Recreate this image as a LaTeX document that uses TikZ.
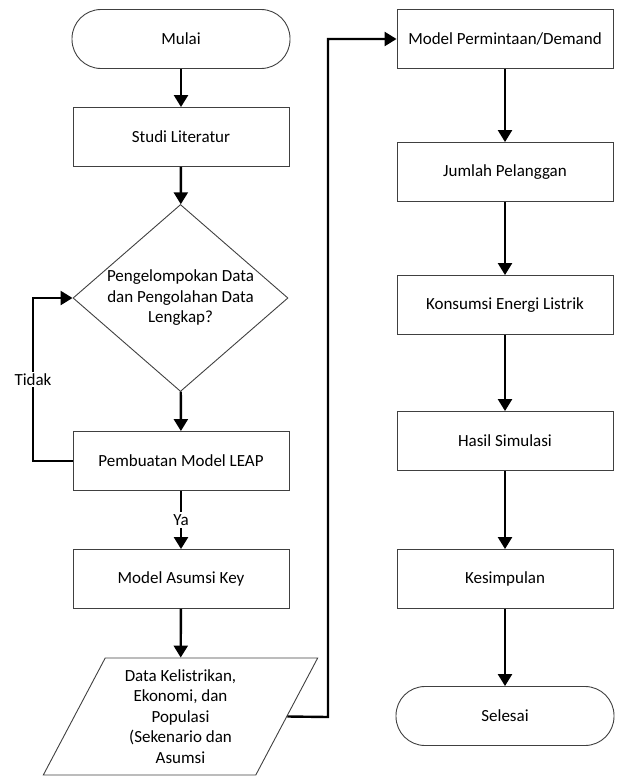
\documentclass[tikz,border=0pt]{standalone}
\usepackage{fontspec}
\setmainfont{Carlito}
\usetikzlibrary{arrows.meta, positioning, shapes.geometric}

\tikzset{
    terminal/.style={rectangle, rounded corners=29pt, draw=black!75, line width=0.9pt, minimum width=218pt, minimum height=59pt},
    proses/.style={rectangle, draw=black!75, line width=0.9pt, minimum width=216pt, minimum height=59pt},
    keputusan/.style={diamond, draw=black!75, line width=0.9pt, aspect=1.15, minimum width=215pt, minimum height=187pt, inner sep=0pt, align=center},
    masukan/.style={trapezium, trapezium left angle=64, trapezium right angle=116, trapezium stretches=true, draw=black!75, line width=0.9pt, minimum width=275pt, minimum height=117pt, inner sep=0pt, align=center},
    panah/.style={-{Triangle[length=12pt,width=14pt]}, line width=2.4pt},
    ket/.style={fill=white, inner sep=2pt}
}

\begin{document}
\begin{tikzpicture}[x=1pt, y=-1pt, font=\fontsize{17pt}{20.5pt}\selectfont]
    \useasboundingbox (0,0) rectangle (618,776);

    % Left column
    \node[terminal] (mulai) at (181,39) {Mulai};
    \node[proses] (studi) at (181,137) {Studi Literatur};
    \node[keputusan] (cek) at (180.5,298) {Pengelompokan Data\\dan Pengolahan Data\\Lengkap?};
    \node[proses] (leap) at (181,461) {Pembuatan Model LEAP};
    \node[proses] (asumsi) at (181,579) {Model Asumsi Key};
    \node[masukan] (data) at (180.5,716.5) {Data Kelistrikan,\\Ekonomi, dan\\Populasi\\(Sekenario dan\\Asumsi};

    % Right column
    \node[proses] (demand) at (505,39) {Model Permintaan/Demand};
    \node[proses] (pelanggan) at (505,172) {Jumlah Pelanggan};
    \node[proses] (konsumsi) at (505,305) {Konsumsi Energi Listrik};
    \node[proses] (hasil) at (505,441) {Hasil Simulasi};
    \node[proses] (simpulan) at (505,579) {Kesimpulan};
    \node[terminal] (selesai) at (505,716) {Selesai};

    \coordinate (kiri) at (33,461);
    \coordinate (belok) at (328,717);

    % Draw connections
    \draw[panah] (mulai) -- (studi);
    \draw[panah] (studi) -- (cek);
    \draw[panah] (cek) -- (leap);
    \draw[panah] (leap.west) -- (kiri) -- node[ket] {Tidak} (kiri |- cek.west) -- (cek.west);
    \draw[panah] (leap) -- node[ket] {Ya} (asumsi);
    \draw[panah] (asumsi) -- (data);
    \draw[panah] (data.east) -- (belok) |- (demand.west);

    \draw[panah] (demand) -- (pelanggan);
    \draw[panah] (pelanggan) -- (konsumsi);
    \draw[panah] (konsumsi) -- (hasil);
    \draw[panah] (hasil) -- (simpulan);
    \draw[panah] (simpulan) -- (selesai);
\end{tikzpicture}
\end{document}
